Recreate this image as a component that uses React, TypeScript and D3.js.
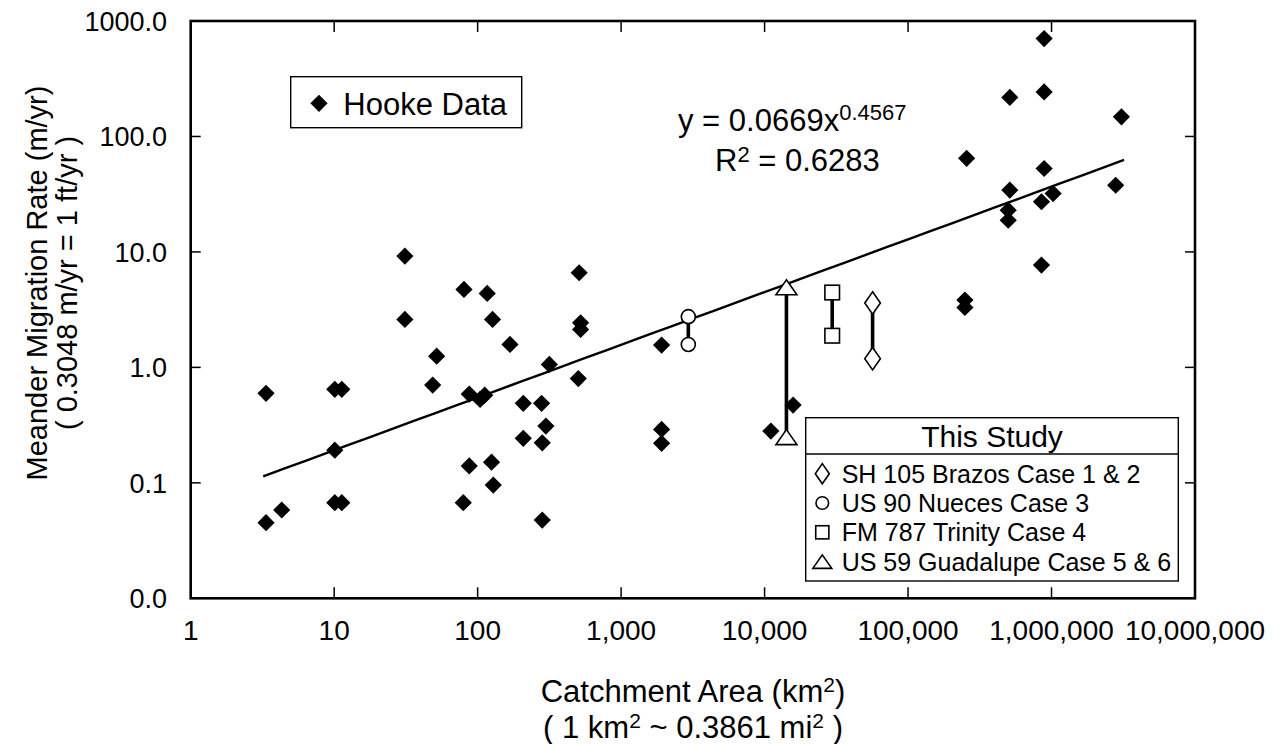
import React from 'react';
import * as d3 from 'd3';

// ---------- data ----------
const hookeArea = [
  3.35, 3.35, 4.31, 10.1, 11.3, 10.1, 10.1, 11.3, 31.1, 31.1,
  51.8, 48.6, 80.3, 87.4, 104, 112, 87.4, 79.4, 116.6, 127,
  125, 128.5, 168, 208, 208, 279, 282, 299, 282, 316,
  510, 522, 522, 503, 1915, 1915, 1915, 11060, 15800, 249000,
  249000, 256000, 512000, 512000, 499000, 499000, 888000, 888000, 888000, 851000,
  1026000, 851000, 3070000, 2800000,
];
const hookeRate = [
  0.596, 0.0452, 0.0582, 0.646, 0.646, 0.192, 0.0673, 0.0673, 9.2, 2.6,
  1.25, 0.703, 4.73, 0.587, 0.528, 0.575, 0.14, 0.0673, 4.37, 2.6,
  0.151, 0.0957, 1.58, 0.488, 0.243, 0.488, 0.222, 0.31, 0.0476, 1.06,
  6.6, 2.43, 2.13, 0.8, 1.56, 0.29, 0.22, 0.281, 0.472, 3.83,
  3.3, 64.6, 218, 34.3, 23, 18.8, 705, 243, 52.8, 27.2,
  32, 7.7, 148, 37.8,
];

const studyCases = [
  'SH 105 Brazos Case 1 & 2',
  'US 90 Nueces Case 3',
  'FM 787 Trinity Case 4',
  'US 59 Guadalupe Case 5 & 6',
];
const studyMarkers = ['diamond', 'circle', 'square', 'triangle'];
const studyArea = [56600, 2940, 29600, 14200];
const studyRateHigh = [3.61, 2.75, 4.45, 4.94];
const studyRateLow = [1.19, 1.58, 1.88, 0.249];

const fitCoef = 0.0669;
const fitExp = 0.4567;
const fitRange = [3.2, 3.2e6];

const xTickValues = [1, 10, 100, 1000, 10000, 100000, 1000000, 10000000];
const yTickValues = [0.01, 0.1, 1, 10, 100, 1000];
const yTickLabels = ['0.0', '0.1', '1.0', '10.0', '100.0', '1000.0'];

// ---------- layout ----------
const W = 1283;
const H = 744;
const L = 190.7;
const R = 1195;
const T = 21;
const B = 598.3;
const FONT = '"Liberation Sans", Arial, Helvetica, sans-serif';

const x = d3.scaleLog().domain([1, 1e7]).range([L, R]);
const y = d3.scaleLog().domain([0.01, 1000]).range([B, T]);
const fmtX = d3.format(',');

function marker(kind: string, cx: number, cy: number, s: number, key?: string) {
  const common = { fill: '#fff', stroke: '#000', strokeWidth: 1.6 };
  if (kind === 'diamond') {
    const hw = 7.8 * s, hh = 11.2 * s;
    return <path key={key} d={`M${cx},${cy - hh}L${cx + hw},${cy}L${cx},${cy + hh}L${cx - hw},${cy}Z`} {...common} />;
  }
  if (kind === 'circle') {
    return <circle key={key} cx={cx} cy={cy} r={7 * s} {...common} />;
  }
  if (kind === 'square') {
    const h = 7.3 * s;
    return <rect key={key} x={cx - h} y={cy - h} width={2 * h} height={2 * h} {...common} />;
  }
  const hw = 10.5 * s, hh = 7.5 * s;
  return <path key={key} d={`M${cx},${cy - hh}L${cx + hw},${cy + hh}L${cx - hw},${cy + hh}Z`} {...common} />;
}

function filledDiamond(cx: number, cy: number, h: number, key?: string) {
  return <path key={key} d={`M${cx},${cy - h}L${cx + h},${cy}L${cx},${cy + h}L${cx - h},${cy}Z`} fill="#000" />;
}

export default function App() {
  const fitLine = d3
    .line<number>()
    .x((d) => x(d))
    .y((d) => y(fitCoef * Math.pow(d, fitExp)));
  const fitPts = d3.range(0, 41).map((i) => fitRange[0] * Math.pow(fitRange[1] / fitRange[0], i / 40));

  return (
    <svg width={W} height={H} style={{ position: 'absolute', left: 0, top: 0, background: '#fff' }} fontFamily={FONT}>
      <rect x={0} y={0} width={W} height={H} fill="#fff" />

      {/* ticks */}
      {xTickValues.map((v) => (
        <g key={'xt' + v}>
          <line x1={x(v)} x2={x(v)} y1={B} y2={B - 11} stroke="#000" strokeWidth={1.5} />
          <line x1={x(v)} x2={x(v)} y1={T} y2={T + 11} stroke="#000" strokeWidth={1.5} />
          <text x={x(v)} y={640} textAnchor="middle" fontSize={28} fill="#000">{fmtX(v)}</text>
        </g>
      ))}
      {yTickValues.map((v, i) => (
        <g key={'yt' + v}>
          <line x1={L} x2={L + 10} y1={y(v)} y2={y(v)} stroke="#000" strokeWidth={1.5} />
          <line x1={R} x2={R - 10} y1={y(v)} y2={y(v)} stroke="#000" strokeWidth={1.5} />
          <text x={167} y={y(v)} dy="0.36em" textAnchor="end" fontSize={27} fill="#000">{yTickLabels[i]}</text>
        </g>
      ))}

      {/* frame */}
      <rect x={L} y={T} width={R - L} height={B - T} fill="none" stroke="#000" strokeWidth={2.6} />

      {/* regression line */}
      <path d={fitLine(fitPts) || ''} fill="none" stroke="#000" strokeWidth={2.4} />

      {/* Hooke data */}
      {hookeArea.map((a, i) => filledDiamond(x(a), y(hookeRate[i]), 8.6, 'h' + i))}

      {/* This study */}
      {studyArea.map((a, i) => (
        <line key={'sl' + i} x1={x(a)} x2={x(a)} y1={y(studyRateHigh[i])} y2={y(studyRateLow[i])} stroke="#000" strokeWidth={3.6} />
      ))}
      {studyArea.map((a, i) => (
        <g key={'sm' + i}>
          {marker(studyMarkers[i], x(a), y(studyRateHigh[i]), 1)}
          {marker(studyMarkers[i], x(a), y(studyRateLow[i]), 1)}
        </g>
      ))}

      {/* equation */}
      <text x={678} y={131} fontSize={31} fill="#000">
        y = 0.0669x<tspan dy={-11} fontSize={22}>0.4567</tspan>
      </text>
      <text x={715} y={170.7} fontSize={31} fill="#000">
        R<tspan dy={-9} fontSize={22}>2</tspan><tspan dy={9}> = 0.6283</tspan>
      </text>

      {/* Hooke legend */}
      <rect x={290.7} y={76.7} width={231} height={51} fill="#fff" stroke="#000" strokeWidth={1.4} />
      {filledDiamond(319, 103.3, 8.6)}
      <text x={343.3} y={115} fontSize={31} fill="#000">Hooke Data</text>

      {/* This Study legend */}
      <rect x={805.7} y={417.7} width={372.6} height={163.3} fill="#fff" stroke="#000" strokeWidth={1.4} />
      <line x1={805.7} x2={1178.3} y1={454} y2={454} stroke="#000" strokeWidth={1.4} />
      <text x={992} y={446.7} textAnchor="middle" fontSize={30} fill="#000">This Study</text>
      {studyCases.map((c, i) => {
        const base = 482.7 + i * 29.3;
        return (
          <g key={'lg' + i}>
            {marker(studyMarkers[i], 822.3, base - 9, 0.9)}
            <text x={841.7} y={base} fontSize={25} fill="#000">{c}</text>
          </g>
        );
      })}

      {/* axis titles */}
      <text x={693} y={701.7} textAnchor="middle" fontSize={31} fill="#000">
        Catchment Area (km<tspan dy={-10} fontSize={21}>2</tspan><tspan dy={10}>)</tspan>
      </text>
      <text x={693} y={738.3} textAnchor="middle" fontSize={31} fill="#000">
        ( 1 km<tspan dy={-10} fontSize={21}>2</tspan><tspan dy={10}> ~ 0.3861 mi</tspan><tspan dy={-10} fontSize={21}>2</tspan><tspan dy={10}> )</tspan>
      </text>
      <g transform="translate(47,283) rotate(-90)">
        <text x={0} y={0} textAnchor="middle" fontSize={29} fill="#000">Meander Migration Rate (m/yr)</text>
        <text x={0} y={30} textAnchor="middle" fontSize={29} fill="#000">( 0.3048 m/yr = 1 ft/yr )</text>
      </g>
    </svg>
  );
}
